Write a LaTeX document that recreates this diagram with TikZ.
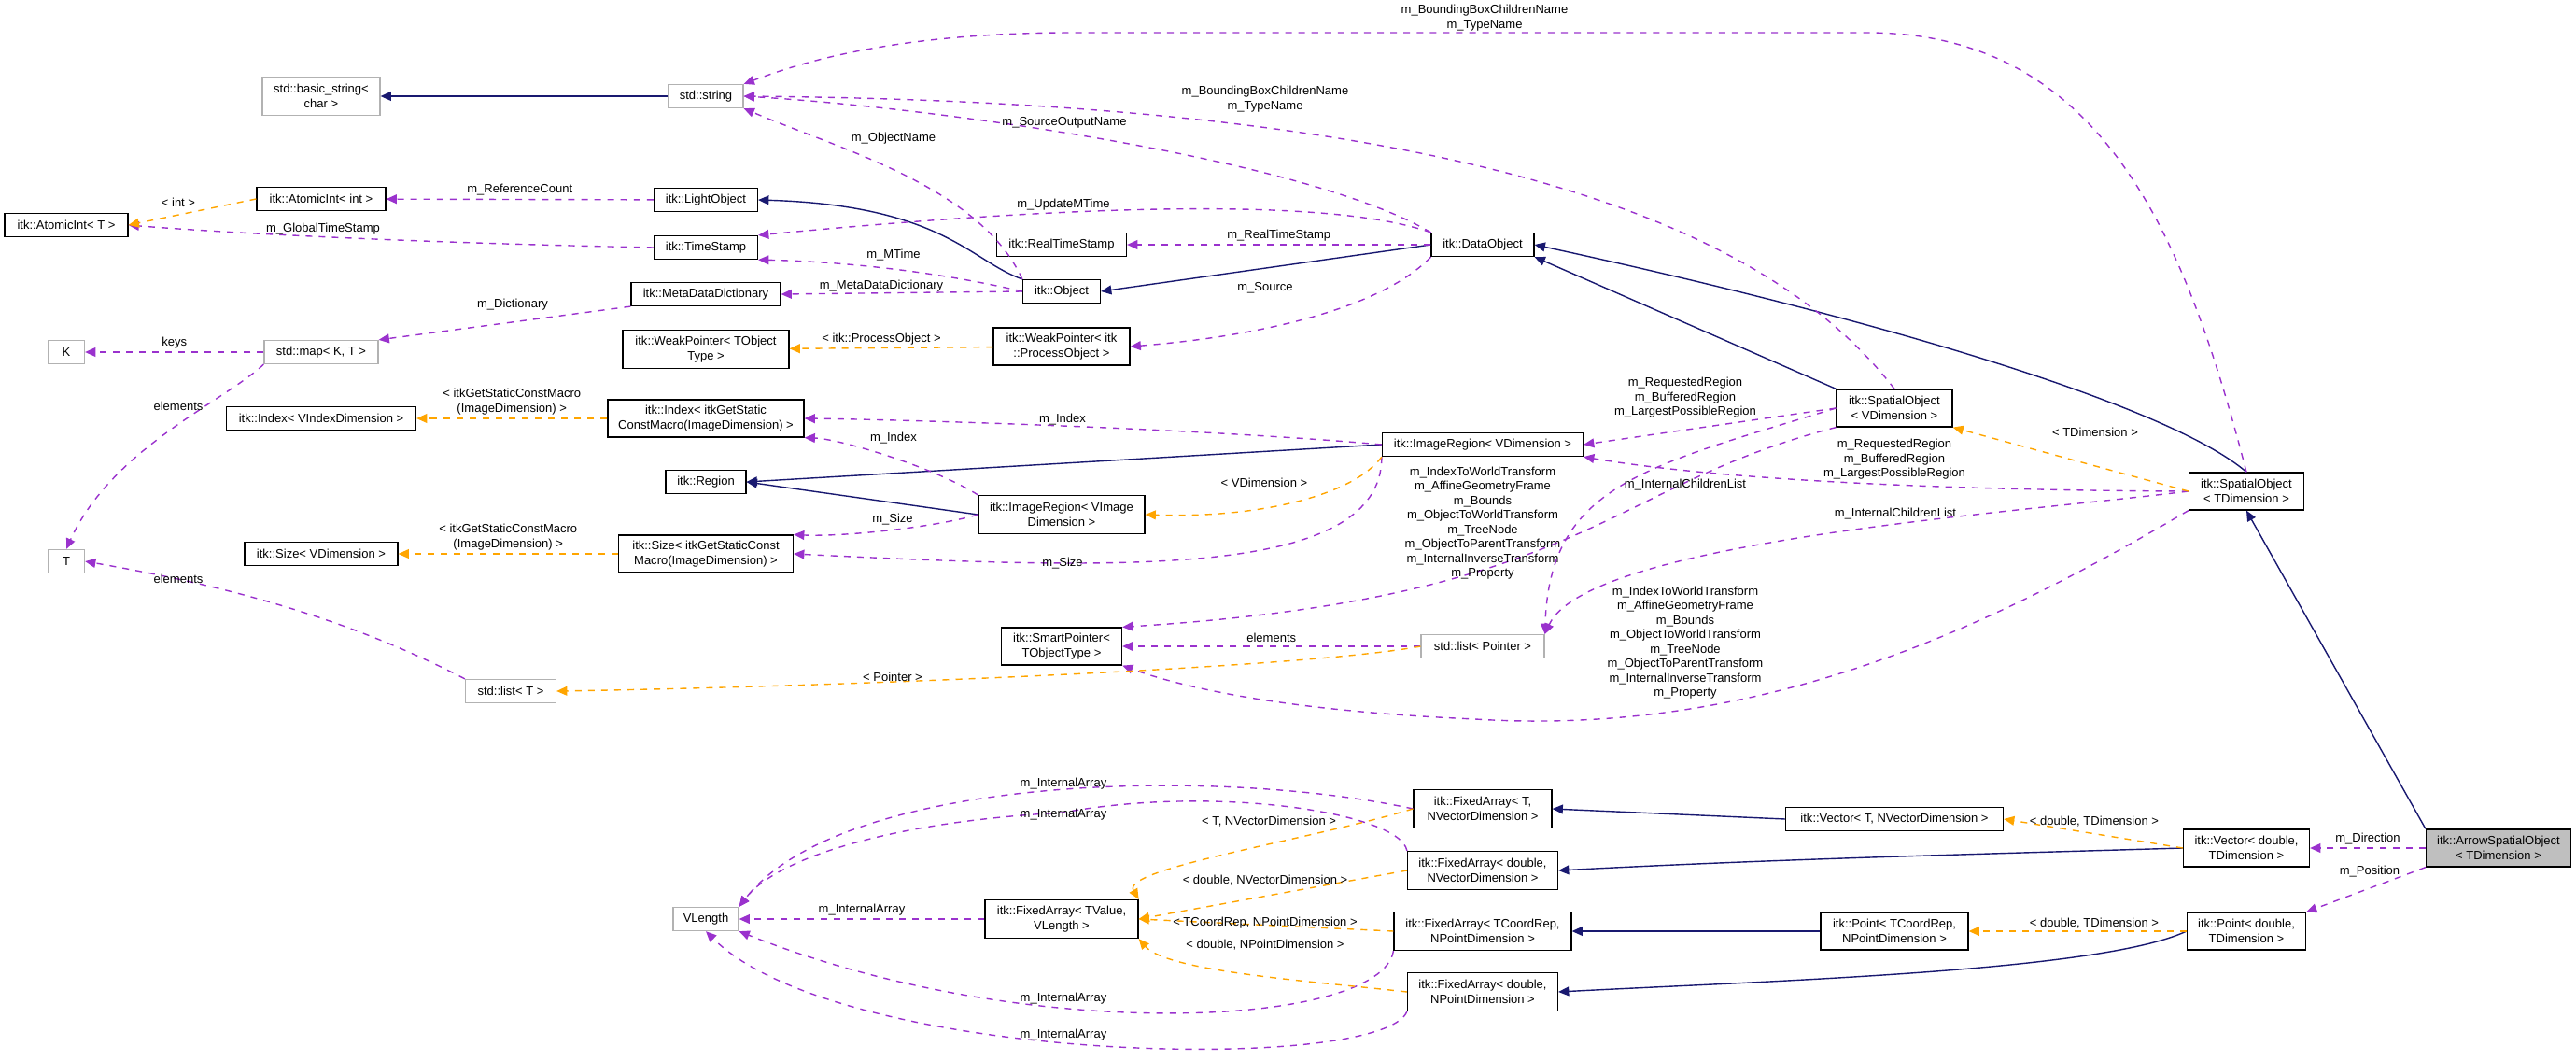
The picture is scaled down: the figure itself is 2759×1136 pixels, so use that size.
\documentclass[tikz,border=0pt]{standalone}
\usepackage{fontspec}
\setmainfont{Liberation Sans}
\usetikzlibrary{arrows.meta}
\definecolor{inhc}{HTML}{191970}
\definecolor{usec}{HTML}{9A32CD}
\definecolor{tplc}{HTML}{FFA500}
\begin{document}
\begin{tikzpicture}[x=0.01cm,y=-0.01cm,
  font=\fontsize{3.7}{4.4}\selectfont,
  wd/.style={minimum width=#1*0.01cm},
  ht/.style={minimum height=#1*0.01cm},
  cls/.style={draw=black,line width=0.35pt,fill=white,inner sep=1pt,minimum height=0.25cm,align=center},
  ext/.style={cls,draw=gray!60},
  cur/.style={cls,fill=gray!50},
  lab/.style={inner sep=0pt,align=center},
  inh/.style={draw=inhc,line width=0.4pt,-{Triangle[length=3.2pt,width=2.8pt]}},
  use/.style={draw=usec,line width=0.4pt,dash pattern=on 2pt off 2pt,-{Triangle[length=3.2pt,width=2.8pt]}},
  tpl/.style={draw=tplc,line width=0.4pt,dash pattern=on 2pt off 2pt,-{Triangle[length=3.2pt,width=2.8pt]}}]
\useasboundingbox (0,0) rectangle (2759,1136);
% nodes
\node[ext,wd=126,ht=41] (bstr) at (344,103) {std::basic\_string\textless\\char \textgreater};
\node[ext,wd=80] (str) at (756,103) {std::string};
\node[cls,wd=138] (aint) at (344,213) {itk::AtomicInt\textless{} int \textgreater};
\node[cls,wd=132] (aT) at (71,241) {itk::AtomicInt\textless{} T \textgreater};
\node[cls,wd=111] (lo) at (756,214) {itk::LightObject};
\node[cls,wd=111] (ts) at (756,265) {itk::TimeStamp};
\node[cls,wd=160] (mdd) at (756,315) {itk::MetaDataDictionary};
\node[cls,wd=178,ht=41] (wpT) at (756,374) {itk::WeakPointer\textless{} TObject\\Type \textgreater};
\node[ext,wd=39] (K) at (71,377) {K};
\node[ext,wd=122] (map) at (344,377) {std::map\textless{} K, T \textgreater};
\node[cls,wd=203] (idxV) at (344,448) {itk::Index\textless{} VIndexDimension \textgreater};
\node[cls,wd=210,ht=40] (idxG) at (756,448) {itk::Index\textless{} itkGetStatic\\ConstMacro(ImageDimension) \textgreater};
\node[cls,wd=86] (reg) at (756,516) {itk::Region};
\node[cls,wd=164] (sizeV) at (344,593) {itk::Size\textless{} VDimension \textgreater};
\node[cls,wd=187,ht=40] (sizeG) at (756,593) {itk::Size\textless{} itkGetStaticConst\\Macro(ImageDimension) \textgreater};
\node[ext,wd=39] (T) at (71,601) {T};
\node[ext,wd=97] (listT) at (547,740) {std::list\textless{} T \textgreater};
\node[cls,wd=139] (rts) at (1137,262) {itk::RealTimeStamp};
\node[cls,wd=110] (dobj) at (1588,262) {itk::DataObject};
\node[cls,wd=83] (obj) at (1137,312) {itk::Object};
\node[cls,wd=146,ht=40] (wpP) at (1137,371) {itk::WeakPointer\textless{} itk\\::ProcessObject \textgreater};
\node[cls,wd=215] (irV) at (1588,476) {itk::ImageRegion\textless{} VDimension \textgreater};
\node[cls,wd=178,ht=41] (irI) at (1137,551) {itk::ImageRegion\textless{} VImage\\Dimension \textgreater};
\node[cls,wd=124,ht=40] (soV) at (2029,437) {itk::SpatialObject\\\textless{} VDimension \textgreater};
\node[cls,wd=123,ht=40] (soT) at (2406,526) {itk::SpatialObject\\\textless{} TDimension \textgreater};
\node[cls,wd=129,ht=40] (sp) at (1137,692) {itk::SmartPointer\textless\\TObjectType \textgreater};
\node[ext,wd=132] (listP) at (1588,692) {std::list\textless{} Pointer \textgreater};
\node[ext,wd=70] (vl) at (756,984) {VLength};
\node[cls,wd=164,ht=41] (faTV) at (1137,984) {itk::FixedArray\textless{} TValue,\\VLength \textgreater};
\node[cls,wd=148,ht=41] (faTN) at (1588,866) {itk::FixedArray\textless{} T,\\NVectorDimension \textgreater};
\node[cls,wd=161,ht=41] (faDN) at (1588,932) {itk::FixedArray\textless{} double,\\NVectorDimension \textgreater};
\node[cls,wd=190,ht=41] (faCP) at (1588,997) {itk::FixedArray\textless{} TCoordRep,\\NPointDimension \textgreater};
\node[cls,wd=161,ht=41] (faDP) at (1588,1062) {itk::FixedArray\textless{} double,\\NPointDimension \textgreater};
\node[cls,wd=233] (vecT) at (2029,877) {itk::Vector\textless{} T, NVectorDimension \textgreater};
\node[cls,wd=135,ht=40] (vecD) at (2406,908) {itk::Vector\textless{} double,\\TDimension \textgreater};
\node[cur,wd=155,ht=40] (arr) at (2676,908) {itk::ArrowSpatialObject\\\textless{} TDimension \textgreater};
\node[cls,wd=158,ht=40] (ptC) at (2029,997) {itk::Point\textless{} TCoordRep,\\NPointDimension \textgreater};
\node[cls,wd=127,ht=40] (ptD) at (2406,997) {itk::Point\textless{} double,\\TDimension \textgreater};
% inheritance
\draw[inh] (str) -- (bstr);
\draw[inh] (obj.north west) .. controls (1040,280) and (1010,220) .. (lo.east);
\draw[inh] (dobj.west) -- (obj.east);
\draw[inh] (soV.north west) -- (dobj.south east);
\draw[inh] (soT.north) .. controls (2330,440) and (2050,350) .. (dobj.east);
\draw[inh] (irV.west) -- (reg.east);
\draw[inh] (irI.west) -- (reg.east);
\draw[inh] (arr.north west) -- (soT.south);
\draw[inh] (vecT.west) -- (faTN.east);
\draw[inh] (vecD.west) .. controls (2100,915) and (1900,920) .. (faDN.east);
\draw[inh] (ptC.west) -- (faCP.east);
\draw[inh] (ptD.west) .. controls (2250,1040) and (1900,1050) .. (faDP.east);
% usage
\draw[use] (lo) -- node[lab,above=1pt]{m\_ReferenceCount} (aint);
\draw[use] (ts.west) .. controls (450,260) and (250,250) .. (aT.east);
\node[lab] (l1) at (346,245) {m\_GlobalTimeStamp};
\draw[use] (obj.north west) .. controls (1050,200) and (900,160) .. (str.south east);
\node[lab] (l2) at (957,148) {m\_ObjectName};
\draw[use] (obj.west) .. controls (1000,290) and (900,280) .. (ts.south east);
\node[lab] (l3) at (957,273) {m\_MTime};
\draw[use] (obj.west) -- (mdd.east);
\node[lab] (l4) at (944,306) {m\_MetaDataDictionary};
\draw[use] (mdd.south west) -- (map.north east);
\node[lab] (l5) at (549,326) {m\_Dictionary};
\draw[use] (map) -- node[lab,above=1pt]{keys} (K);
\draw[use] (map.south west) .. controls (240,430) and (120,480) .. (T.north);
\node[lab] (l6) at (191,435) {elements};
\draw[use] (listT.north west) .. controls (350,650) and (200,620) .. (T.east);
\node[lab] (l7) at (191,620) {elements};
\draw[use] (dobj.north west) .. controls (1400,170) and (1000,115) .. (str.east);
\node[lab] (l8) at (1140,131) {m\_SourceOutputName};
\draw[use] (dobj.north west) .. controls (1450,220) and (1250,210) .. (ts.north east);
\node[lab] (l9) at (1139,219) {m\_UpdateMTime};
\draw[use] (dobj) -- node[lab,above=1pt]{m\_RealTimeStamp} (rts);
\draw[use] (dobj.south west) .. controls (1480,330) and (1350,360) .. (wpP.east);
\node[lab] (l10) at (1355,308) {m\_Source};
\draw[use] (soV.north) .. controls (1900,250) and (1600,110) .. (str.east);
\node[lab] (l11) at (1355,106) {m\_BoundingBoxChildrenName\\m\_TypeName};
\draw[use] (soT.north) .. controls (2340,250) and (2250,35) .. (2000,35) -- (1150,35) .. controls (950,35) and (850,70) .. (str.north east);
\node[lab] (l12) at (1590,19) {m\_BoundingBoxChildrenName\\m\_TypeName};
\draw[use] (irV.west) .. controls (1300,460) and (1000,450) .. (idxG.east);
\node[lab] (l13) at (1138,449) {m\_Index};
\draw[use] (irI.north west) .. controls (1000,500) and (900,470) .. (idxG.south east);
\node[lab] (l14) at (957,469) {m\_Index};
\draw[use] (irI.west) .. controls (1000,565) and (900,575) .. (sizeG.north east);
\node[lab] (l15) at (956,556) {m\_Size};
\draw[use] (irV.south west) .. controls (1480,620) and (1200,610) .. (sizeG.east);
\node[lab] (l16) at (1138,603) {m\_Size};
\draw[use] (soV.west) -- (irV.east);
\node[lab] (l17) at (1805,426) {m\_RequestedRegion\\m\_BufferedRegion\\m\_LargestPossibleRegion};
\draw[use] (soT.west) .. controls (2100,525) and (1850,515) .. (irV.south east);
\node[lab] (l18) at (2029,492) {m\_RequestedRegion\\m\_BufferedRegion\\m\_LargestPossibleRegion};
\draw[use] (soV.south west) .. controls (1720,520) and (1700,640) .. (sp.north east);
\node[lab] (l19) at (1588,560) {m\_IndexToWorldTransform\\m\_AffineGeometryFrame\\m\_Bounds\\m\_ObjectToWorldTransform\\m\_TreeNode\\m\_ObjectToParentTransform\\m\_InternalInverseTransform\\m\_Property};
\draw[use] (soT.south west) .. controls (2150,660) and (1900,790) .. (1580,770) .. controls (1350,760) and (1250,730) .. (sp.south east);
\node[lab] (l20) at (1805,688) {m\_IndexToWorldTransform\\m\_AffineGeometryFrame\\m\_Bounds\\m\_ObjectToWorldTransform\\m\_TreeNode\\m\_ObjectToParentTransform\\m\_InternalInverseTransform\\m\_Property};
\draw[use] (soV.west) .. controls (1760,500) and (1660,520) .. (listP.north east);
\node[lab] (l21) at (1805,519) {m\_InternalChildrenList};
\draw[use] (soT.west) .. controls (2150,550) and (1700,580) .. (listP.north east);
\node[lab] (l22) at (2030,550) {m\_InternalChildrenList};
\draw[use] (listP) -- node[lab,above=1pt]{elements} (sp);
\draw[use] (faTV) -- node[lab,above=1pt]{m\_InternalArray} (vl);
\draw[use] (faTN.west) .. controls (1300,820) and (900,830) .. (vl.north east);
\node[lab] (l23) at (1139,839) {m\_InternalArray};
\draw[use] (faDN.north west) .. controls (1500,870) and (1300,840) .. (1139,870) .. controls (950,880) and (830,920) .. (vl.north east);
\node[lab] (l24) at (1139,872) {m\_InternalArray};
\draw[use] (faCP.south west) .. controls (1480,1100) and (1100,1120) .. (vl.south east);
\node[lab] (l25) at (1139,1069) {m\_InternalArray};
\draw[use] (faDP.south west) .. controls (1480,1150) and (900,1140) .. (vl.south);
\node[lab] (l26) at (1139,1108) {m\_InternalArray};
\draw[use] (arr) -- node[lab,above=1pt]{m\_Direction} (vecD);
\draw[use] (arr.south west) -- (ptD.north east);
\node[lab] (l27) at (2538,933) {m\_Position};
% template
\draw[tpl] (aint.west) -- (aT.east);
\node[lab] (l28) at (191,217) {\textless{} int \textgreater};
\draw[tpl] (wpP) -- (wpT);
\node[lab] (l29) at (944,363) {\textless{} itk::ProcessObject \textgreater};
\draw[tpl] (idxG) -- node[lab,above=1pt]{\textless{} itkGetStaticConstMacro\\(ImageDimension) \textgreater} (idxV);
\draw[tpl] (sizeG) -- node[lab,above=1pt]{\textless{} itkGetStaticConstMacro\\(ImageDimension) \textgreater} (sizeV);
\draw[tpl] (irV.south west) .. controls (1450,530) and (1350,555) .. (irI.east);
\node[lab] (l30) at (1354,517) {\textless{} VDimension \textgreater};
\draw[tpl] (soT.west) -- (soV.south east);
\node[lab] (l31) at (2244,463) {\textless{} TDimension \textgreater};
\draw[tpl] (listP.west) .. controls (1400,715) and (900,735) .. (listT.east);
\node[lab] (l32) at (956,725) {\textless{} Pointer \textgreater};
\draw[tpl] (faTN.west) .. controls (1400,900) and (1200,930) .. (faTV.north east);
\node[lab] (l33) at (1359,880) {\textless{} T, NVectorDimension \textgreater};
\draw[tpl] (faDN.west) -- (faTV.east);
\node[lab] (l34) at (1355,943) {\textless{} double, NVectorDimension \textgreater};
\draw[tpl] (faCP.west) -- (faTV.east);
\node[lab] (l35) at (1355,988) {\textless{} TCoordRep, NPointDimension \textgreater};
\draw[tpl] (faDP.west) .. controls (1400,1050) and (1250,1040) .. (faTV.south east);
\node[lab] (l36) at (1355,1012) {\textless{} double, NPointDimension \textgreater};
\draw[tpl] (vecD.west) -- (vecT.east);
\node[lab] (l37) at (2243,880) {\textless{} double, TDimension \textgreater};
\draw[tpl] (ptD) -- (ptC);
\node[lab] (l38) at (2243,989) {\textless{} double, TDimension \textgreater};
\end{tikzpicture}
\end{document}
